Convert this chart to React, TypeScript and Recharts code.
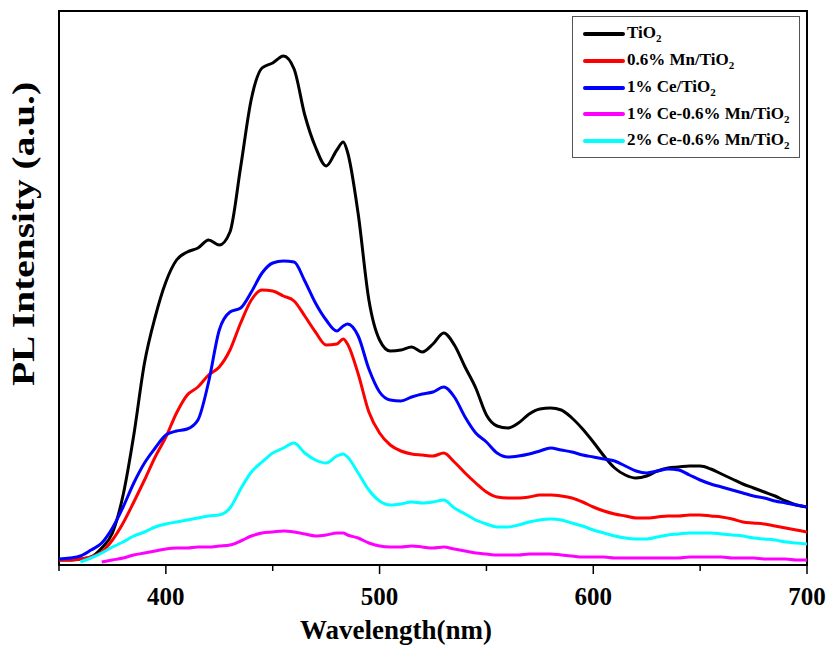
import { LineChart, Line, XAxis, YAxis, ReferenceArea } from 'recharts';

// wavelength (nm) sampled every 5 nm, plus the 483 nm shoulder
const wavelengths = [
  350, 355, 360, 365, 370, 375, 380, 385, 390, 395,
  400, 405, 410, 415, 420, 425, 430, 435, 440, 445,
  450, 455, 460, 465, 470, 475, 480, 483, 485, 490, 495,
  500, 505, 510, 515, 520, 525, 530, 535, 540, 545,
  550, 555, 560, 565, 570, 575, 580, 585, 590, 595,
  600, 605, 610, 615, 620, 625, 630, 635, 640, 645,
  650, 655, 660, 665, 670, 675, 680, 685, 690, 695,
  700,
];

// PL intensity, arbitrary units
const tio2 = [
  5, 5, 6, 8, 17, 32, 70, 130, 202, 248,
  283, 305, 313, 317, 325, 320, 333, 398, 466, 497,
  502, 509, 496, 450, 418, 399, 415, 423, 413, 351, 265,
  225, 214, 215, 218, 213, 221, 232, 220, 198, 177,
  150, 139, 137, 142, 151, 156, 157, 155, 147, 136,
  123, 109, 97, 90, 87, 89, 94, 97, 98, 99,
  99, 96, 91, 86, 81, 77, 73, 69, 64, 60,
  58,
];

const mn06 = [
  5, 5, 6, 8, 13, 25, 42, 63, 85, 108,
  128, 152, 170, 178, 190, 198, 215, 242, 265, 275,
  274, 269, 264, 249, 233, 220, 221, 226, 221, 191, 153,
  132, 120, 114, 111, 110, 109, 112, 103, 92, 82,
  73, 68, 67, 67, 68, 70, 70, 69, 67, 63,
  58, 54, 51, 49, 47, 47, 48, 49, 49, 50,
  50, 49, 48, 46, 43, 42, 41, 39, 37, 35,
  33,
];

const ce1 = [
  6, 7, 9, 15, 22, 37, 58, 82, 102, 117,
  130, 134, 136, 145, 183, 235, 253, 257, 273, 292,
  302, 304, 303, 284, 262, 245, 234, 239, 241, 229, 196,
  173, 165, 164, 168, 171, 173, 178, 168, 148, 132,
  123, 112, 108, 109, 111, 114, 117, 115, 113, 110,
  108, 106, 104, 99, 94, 92, 94, 96, 95, 90,
  85, 81, 78, 75, 72, 69, 67, 64, 62, 60,
  58,
];

const ce1mn06 = [
  null, null, null, null, 3, 5, 7, 10, 12, 14,
  16, 17, 17, 18, 18, 19, 20, 24, 29, 32,
  33, 34, 33, 31, 29, 30, 32, 32, 30, 27, 22,
  19, 18, 18, 19, 18, 17, 18, 16, 14, 12,
  11, 10, 10, 10, 11, 11, 11, 10, 9, 8,
  8, 8, 7, 7, 7, 7, 7, 7, 7, 8,
  8, 8, 8, 7, 7, 7, 6, 6, 6, 5,
  5,
];

const ce2mn06 = [
  null, null, 3, 7, 12, 18, 23, 29, 33, 38,
  41, 43, 45, 47, 49, 50, 57, 76, 93, 103,
  112, 117, 122, 112, 105, 102, 109, 111, 108, 92, 75,
  64, 60, 61, 63, 62, 63, 65, 57, 51, 45,
  41, 38, 38, 40, 43, 45, 46, 45, 42, 39,
  35, 32, 29, 27, 26, 26, 28, 30, 31, 32,
  32, 32, 31, 30, 29, 27, 26, 25, 23, 22,
  21,
];

const xTicks = [350, 400, 450, 500, 550, 600, 650, 700];

const series = [
  { key: 'tio2', values: tio2, color: '#000000', label: 'TiO' },
  { key: 'mn06', values: mn06, color: '#ff0000', label: '0.6% Mn/TiO' },
  { key: 'ce1', values: ce1, color: '#0000ff', label: '1% Ce/TiO' },
  { key: 'ce1mn06', values: ce1mn06, color: '#ff00ff', label: '1% Ce-0.6% Mn/TiO' },
  { key: 'ce2mn06', values: ce2mn06, color: '#00ffff', label: '2% Ce-0.6% Mn/TiO' },
];

const data = wavelengths.map((wl, i) => {
  const row: Record<string, number | null> = { wl };
  series.forEach((s) => {
    row[s.key] = s.values[i];
  });
  return row;
});

const FONT = '"Times New Roman", "Liberation Serif", serif';

function WlTick(props: any) {
  const { x, y, payload } = props;
  const major = payload.value % 100 === 0;
  return (
    <g>
      <line x1={x} x2={x} y1={y} y2={y + (major ? 9 : 6)} stroke="#000" strokeWidth={1.5} />
      {major && (
        <text x={x} y={y + 40} textAnchor="middle" fontFamily={FONT} fontWeight="bold" fontSize={25} fill="#000">
          {payload.value}
        </text>
      )}
    </g>
  );
}

function XTitle() {
  return (
    <text x={396} y={639} textAnchor="middle" fontFamily={FONT} fontWeight="bold" fontSize={27} fill="#000">
      Wavelength(nm)
    </text>
  );
}

function YTitle() {
  return (
    <text
      transform="translate(24,234) rotate(-90) scale(1.27,1)"
      textAnchor="middle"
      dominantBaseline="central"
      fontFamily={FONT}
      fontWeight="bold"
      fontSize={31}
      fill="#000"
    >
      PL Intensity (a.u.)
    </text>
  );
}

function LegendBox() {
  return (
    <div
      style={{
        position: 'absolute',
        left: 572,
        top: 16,
        width: 226,
        height: 140,
        border: '1px solid #555',
        background: '#fff',
        fontFamily: FONT,
        fontWeight: 'bold',
        fontSize: 17,
      }}
    >
      {series.map((s, i) => (
        <div
          key={s.key}
          style={{ position: 'absolute', left: 10, top: 4 + i * 26.8, height: 26, display: 'flex', alignItems: 'center' }}
        >
          <span style={{ display: 'inline-block', width: 42, height: 4, borderRadius: 2, background: s.color }} />
          <span style={{ marginLeft: 2, whiteSpace: 'nowrap' }}>
            {s.label}
            <sub style={{ fontSize: 11 }}>2</sub>
          </span>
        </div>
      ))}
    </div>
  );
}

export default function App() {
  return (
    <div style={{ position: 'absolute', left: 0, top: 0, width: 831, height: 645, background: '#fff' }}>
      <LineChart width={831} height={645} data={data} margin={{ top: 11, right: 24, bottom: 0, left: 0 }}>
        <XAxis
          dataKey="wl"
          type="number"
          domain={[350, 700]}
          ticks={xTicks}
          height={80}
          tickSize={0}
          tickMargin={0}
          tickLine={false}
          axisLine={{ stroke: '#000', strokeWidth: 2 }}
          tick={<WlTick />}
          label={<XTitle />}
        />
        <YAxis domain={[0, 554]} width={59} tick={false} tickLine={false} axisLine={false} label={<YTitle />} />
        <ReferenceArea x1={350} x2={700} y1={0} y2={554} fill="none" stroke="#000" strokeWidth={2} />
        {series.map((s) => (
          <Line
            key={s.key}
            type="monotone"
            dataKey={s.key}
            stroke={s.color}
            strokeWidth={3}
            dot={false}
            isAnimationActive={false}
          />
        ))}
      </LineChart>
      <LegendBox />
    </div>
  );
}
